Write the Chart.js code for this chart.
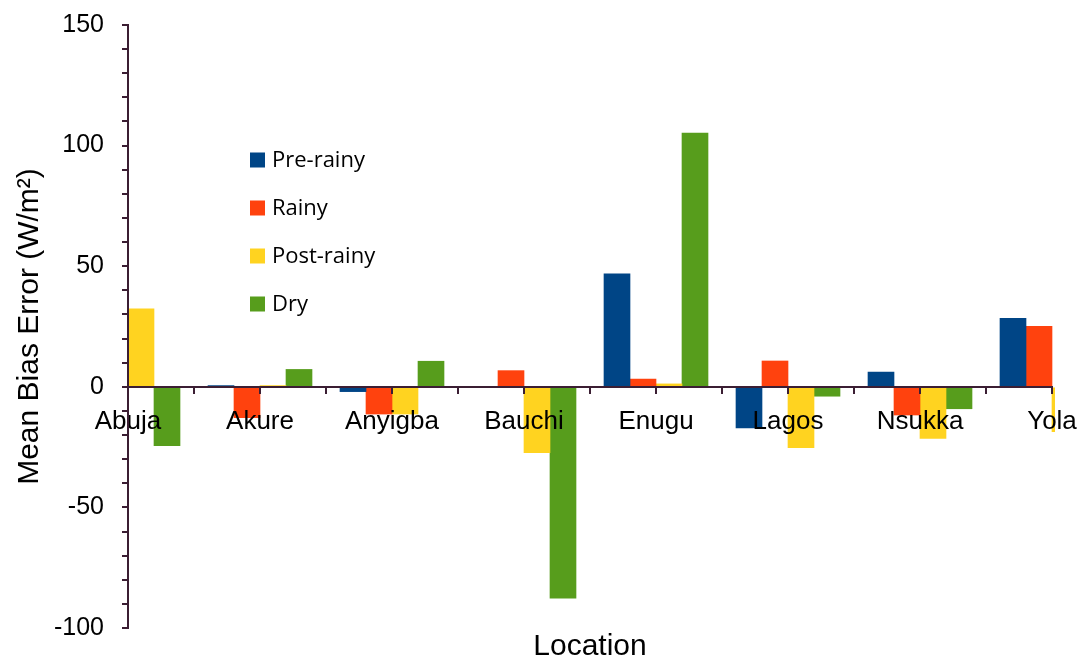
<!DOCTYPE html>
<html>
<head>
<meta charset="utf-8">
<script src="https://cdn.jsdelivr.net/npm/chart.js@4.4.1/dist/chart.umd.min.js"></script>
<style>
html,body{margin:0;padding:0;background:#fff;}
</style>
</head>
<body>
<canvas id="mbeChart" width="1083" height="663"></canvas>
<script>
// values (W/m2); null = hidden outside the plot area
const locations = ["Abuja","Akure","Anyigba","Bauchi","Enugu","Lagos","Nsukka","Yola"];
const preRainy  = [null, 0.5, -2, 0, 46.8, -17, 6.1, 28.4];
const rainy     = [null, -12.8, -11.3, 6.7, 3.2, 10.7, -11.7, 25.1];
const postRainy = [32.3, 0.5, -11.3, -27.3, 1.2, -25.2, -21.4, -18.6];
const dry       = [-24.4, 7.2, 10.6, -87.6, 105.2, -3.9, -9.1, null];
const yLabels   = [-100, -50, 0, 50, 100, 150];

const axisColor = "#3b1e33";
const sans = "'Liberation Sans', Arial, sans-serif";

function toPoints(arr){
  return arr.map((v,i) => ({x:i, y:v}));
}

// legend drawn inside the plot, like the original
const innerLegend = {
  id: "innerLegend",
  afterDraw(chart){
    const ctx = chart.ctx;
    ctx.save();
    ctx.font = "22px 'Open Sans', sans-serif";
    ctx.textBaseline = "middle";
    chart.data.datasets.forEach((ds,i) => {
      const cy = 160 + i*48;
      ctx.fillStyle = ds.backgroundColor;
      ctx.fillRect(250, cy-7.5, 15, 15);
      ctx.fillStyle = "#000";
      ctx.fillText(ds.label, 272, cy+1);
    });
    ctx.restore();
  }
};

const clipBox = {left:0, right:3, top:false, bottom:false};

new Chart(document.getElementById("mbeChart"), {
  type: "bar",
  data: {
    datasets: [
      {label:"Pre-rainy",  data:toPoints(preRainy),  backgroundColor:"#004586", clip:clipBox},
      {label:"Rainy",      data:toPoints(rainy),     backgroundColor:"#ff420e", clip:clipBox},
      {label:"Post-rainy", data:toPoints(postRainy), backgroundColor:"#ffd320", clip:clipBox},
      {label:"Dry",        data:toPoints(dry),       backgroundColor:"#579d1c", clip:clipBox}
    ]
  },
  options: {
    responsive: false,
    animation: false,
    barThickness: 26,
    layout: {padding:{left:0, right:31, top:25, bottom:0}},
    plugins: {legend:{display:false}, tooltip:{enabled:false}},
    scales: {
      x: {
        type: "linear",
        position: {y:0},
        offset: false,
        min: 0,
        max: locations.length - 1,
        border: {color:axisColor, width:2, z:1},
        grid: {offset:false, drawOnChartArea:false, drawTicks:true, tickLength:6, color:axisColor, lineWidth:2, z:1},
        ticks: {
          z: 1,
          stepSize: 0.5,
          autoSkip: false,
          maxRotation: 0,
          padding: 13,
          color: "#000",
          font: {family:sans, size:26},
          callback: (v) => Number.isInteger(v) ? locations[v] : ""
        },
        afterFit: (s) => { s.height = 0; s.paddingLeft = 0; s.paddingRight = 0; }
      },
      xTitle: {
        type: "linear",
        position: "bottom",
        min: 0,
        max: locations.length - 1,
        grid: {display:false},
        border: {display:false},
        ticks: {display:false},
        title: {display:true, text:"Location", color:"#000", font:{family:sans, size:30}, padding:{top:0, bottom:-2}},
        afterFit: (s) => { s.height = 35; s.paddingLeft = 0; s.paddingRight = 0; }
      },
      y: {
        min: -100,
        max: 150,
        border: {color:axisColor, width:2, z:1},
        grid: {drawOnChartArea:false, drawTicks:true, tickLength:6, color:axisColor, lineWidth:2, z:1},
        ticks: {
          z: 1,
          stepSize: 10,
          autoSkip: false,
          padding: 18,
          color: "#000",
          font: {family:sans, size:25},
          callback: (v) => yLabels.includes(v) ? v : ""
        },
        title: {display:true, text:"Mean Bias Error (W/m\u00b2)", color:"#000", font:{family:sans, size:30}, padding:{top:12, bottom:0}},
        afterFit: (s) => { s.width = 128; s.paddingTop = 0; s.paddingBottom = 0; }
      }
    }
  },
  plugins: [innerLegend]
});
</script>
</body>
</html>
